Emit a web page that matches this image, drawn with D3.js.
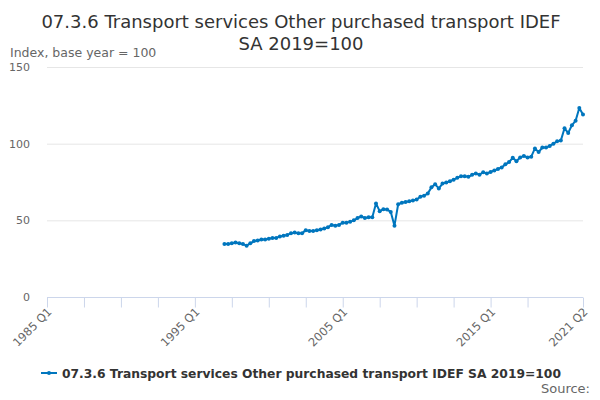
<!DOCTYPE html>
<html><head><meta charset="utf-8">
<script src="https://cdn.jsdelivr.net/npm/d3@7"></script>
<style>body{margin:0;background:#fff;font-family:"DejaVu Sans",sans-serif;}</style>
</head><body><svg id="c" width="600" height="400"></svg>
<script>
const titleLines = ["07.3.6 Transport services Other purchased transport IDEF", "SA 2019=100"];
const seriesName = "07.3.6 Transport services Other purchased transport IDEF SA 2019=100";
const yTitle = "Index, base year = 100";
const firstYear = 1985;
const lastLabel = "2021 Q2";
const yTicks = [0, 50, 100, 150];
const xTickLabels = ["1985 Q1", "1995 Q1", "2005 Q1", "2015 Q1", "2021 Q2"];
const dataStart = "1997 Q1";
const values = [
  34.5, 34.6, 35, 35.5,
  35, 34.5, 33.5, 35,
  36.5, 36.8, 37.5, 37.5,
  38, 38.5, 38.5, 39.5,
  40, 40.5, 41.5, 42,
  41.5, 41.5, 43.5, 43,
  43, 43.5, 44, 44.7,
  45.5, 47, 46.5, 47,
  48.5, 48.5, 49, 50,
  51.5, 52.5, 51.5, 52,
  52, 61, 56, 57.3,
  57, 55.5, 46.5, 60.5,
  61.5, 62, 62.5, 63,
  63.6, 65.4, 66, 67.5,
  71.5, 73.5, 70.8, 74,
  74.7, 75.5, 76.5, 77.7,
  78.8, 78.8, 78.4, 79.7,
  80.6, 79.7, 81.4, 80.6,
  81.5, 82.5, 83.5, 84.5,
  86.5, 88, 90.8, 88.5,
  91, 92, 91, 91.5,
  96.9, 94.5, 97.5, 97.5,
  98.5, 100, 101.5, 102,
  110, 107, 112, 115,
  123.3, 119
];

(function () {
const categories = [];
for (let yr = firstYear; ; yr++) {
  let done = false;
  for (let q = 1; q <= 4; q++) {
    const lab = yr + " Q" + q;
    categories.push(lab);
    if (lab === lastLabel) { done = true; break; }
  }
  if (done) break;
}
const startIdx = categories.indexOf(dataStart);
const data = values.map((v, i) => ({cat: categories[startIdx + i], v}));

const svg = d3.select("#c");
const mLeft = 47, mRight = 583, mTop = 67, mBottom = 297;
const x = d3.scalePoint().domain(categories).range([mLeft, mRight]);
const y = d3.scaleLinear().domain([0, 150]).range([mBottom, mTop]);

svg.append("text").attr("x", 301).attr("y", 28).attr("text-anchor", "middle")
  .attr("font-size", 18).attr("fill", "#333")
  .selectAll("tspan").data(titleLines).join("tspan")
  .attr("x", 301).attr("dy", (d, i) => i ? 22 : 0).text(d => d);

svg.append("text").attr("x", 10).attr("y", 57).attr("font-size", 12.5).attr("fill", "#666").text(yTitle);

svg.append("g").selectAll("line").data(yTicks.filter(t => t > 0)).join("line")
  .attr("x1", mLeft).attr("x2", mRight).attr("y1", d => y(d) + 0.5).attr("y2", d => y(d) + 0.5)
  .attr("stroke", "#e6e6e6");

svg.append("g").selectAll("text").data(yTicks).join("text")
  .attr("x", 30).attr("y", d => y(d) + 4).attr("text-anchor", "end")
  .attr("font-size", 11).attr("fill", "#666").text(d => d);

const tickCats = categories.filter((c, i) => i % 10 === 0 && i <= categories.length - 10);
tickCats.push(lastLabel);
const xAxis = d3.axisBottom(x).tickValues(tickCats).tickSize(10)
  .tickFormat(d => xTickLabels.includes(d) ? d : "");
const gx = svg.append("g").attr("transform", `translate(0,${mBottom + 0.5})`).call(xAxis);
gx.select(".domain").attr("stroke", "#ccd6eb").attr("d", `M${mLeft},0H${mRight}`);
gx.selectAll(".tick line").attr("stroke", "#ccd6eb");
gx.selectAll(".tick text").attr("font-size", 11.5).attr("fill", "#666")
  .attr("font-family", "DejaVu Sans").attr("text-anchor", "end")
  .attr("dy", null).attr("y", 0)
  .attr("transform", "translate(5,15) rotate(-45)");

const color = "#0076be";
const line = d3.line().x(d => x(d.cat)).y(d => y(d.v));
svg.append("path").datum(data).attr("d", line).attr("fill", "none")
  .attr("stroke", color).attr("stroke-width", 2).attr("stroke-linejoin", "round");
svg.append("g").selectAll("circle").data(data).join("circle")
  .attr("cx", d => x(d.cat)).attr("cy", d => y(d.v)).attr("r", 2).attr("fill", color);

const ly = 373;
svg.append("line").attr("x1", 41).attr("x2", 57).attr("y1", ly).attr("y2", ly).attr("stroke", color).attr("stroke-width", 2);
svg.append("circle").attr("cx", 49).attr("cy", ly).attr("r", 2).attr("fill", color);
svg.append("text").attr("x", 62).attr("y", ly + 5).attr("font-size", 12.3).attr("font-weight", "bold")
  .attr("fill", "#333").text(seriesName);

svg.append("text").attr("x", 590).attr("y", 393).attr("text-anchor", "end")
  .attr("font-size", 13).attr("fill", "#666").text("Source:");
})();
</script></body></html>
